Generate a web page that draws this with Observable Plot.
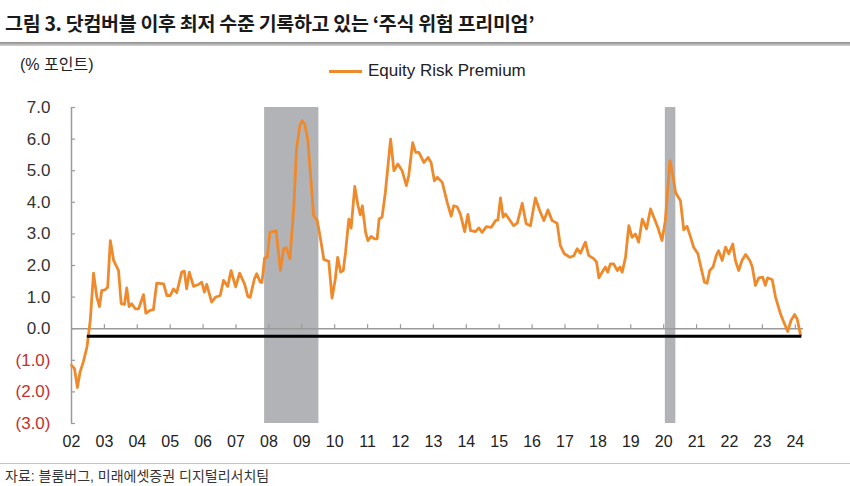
<!DOCTYPE html>
<html>
<head>
<meta charset="utf-8">
<script src="https://cdn.jsdelivr.net/npm/d3@7"></script>
<script src="https://cdn.jsdelivr.net/npm/@observablehq/plot@0.6"></script>
<style>
  html, body { margin: 0; padding: 0; background: #fff; }
  #wrap { position: relative; width: 850px; height: 486px; overflow: hidden;
          font-family: "Liberation Sans", Arial, "Noto Sans CJK KR", sans-serif; color: #222; }
  #wrap > svg { position: absolute; left: 0; top: 0; }
  .abs { position: absolute; white-space: nowrap; line-height: 1; }
  #title { left: 5px; top: 13px; font-size: 19.5px; font-weight: bold; color: #1a1a1a;
           font-family: "Noto Sans CJK KR", "Noto Sans", sans-serif; letter-spacing: -0.3px; }
  #titlebar { left: 0; top: 42px; width: 850px; height: 4px;
              background: linear-gradient(#8a8a8a, #d4d4d4); }
  #unit { left: 20px; top: 57px; font-size: 16px; color: #222; }
  #legline { left: 329px; top: 70px; width: 33px; height: 3px; background: #ef8a2c; }
  #legtext { left: 368px; top: 62px; font-size: 17px; color: #222; }
  #footline { left: 0; top: 463px; width: 850px; height: 1px; background: #c4c4c4; }
  #caption { left: 5px; top: 469px; font-size: 14px; color: #333; }
</style>
</head>
<body>
<div id="wrap"></div>
<script>
// Equity Risk Premium (% points); x = decimal year
const erpYear = [
  2002.00, 2002.09, 2002.18, 2002.26, 2002.36, 2002.47, 2002.57, 2002.67, 2002.77, 2002.85,
  2002.92, 2003.02, 2003.10, 2003.18, 2003.28, 2003.43, 2003.51, 2003.61, 2003.68, 2003.75,
  2003.83, 2003.94, 2004.04, 2004.19, 2004.26, 2004.39, 2004.49, 2004.59, 2004.80, 2004.90,
  2005.00, 2005.10, 2005.20, 2005.35, 2005.43, 2005.50, 2005.58, 2005.71, 2005.86, 2005.96,
  2006.04, 2006.11, 2006.26, 2006.37, 2006.52, 2006.62, 2006.75, 2006.85, 2006.99, 2007.11,
  2007.26, 2007.36, 2007.43, 2007.56, 2007.63, 2007.74, 2007.79, 2007.87, 2007.95, 2008.03,
  2008.15, 2008.22, 2008.35, 2008.45, 2008.53, 2008.64, 2008.76, 2008.84, 2008.94, 2009.01,
  2009.09, 2009.18, 2009.26, 2009.36, 2009.47, 2009.57, 2009.67, 2009.82, 2009.92, 2010.02,
  2010.09, 2010.18, 2010.26, 2010.33, 2010.43, 2010.50, 2010.61, 2010.71, 2010.78, 2010.84,
  2010.94, 2011.01, 2011.11, 2011.21, 2011.29, 2011.35, 2011.44, 2011.54, 2011.70, 2011.80,
  2011.92, 2012.05, 2012.18, 2012.25, 2012.37, 2012.46, 2012.56, 2012.71, 2012.84, 2012.93,
  2013.03, 2013.12, 2013.27, 2013.42, 2013.54, 2013.62, 2013.72, 2013.82, 2013.95, 2014.05,
  2014.13, 2014.28, 2014.38, 2014.48, 2014.61, 2014.76, 2014.89, 2014.96, 2015.04, 2015.12,
  2015.19, 2015.32, 2015.44, 2015.55, 2015.70, 2015.82, 2015.95, 2016.10, 2016.23, 2016.36,
  2016.48, 2016.61, 2016.76, 2016.86, 2016.98, 2017.15, 2017.27, 2017.37, 2017.47, 2017.62,
  2017.72, 2017.88, 2017.96, 2018.03, 2018.13, 2018.23, 2018.30, 2018.38, 2018.48, 2018.59,
  2018.67, 2018.74, 2018.84, 2018.94, 2019.04, 2019.14, 2019.24, 2019.35, 2019.48, 2019.60,
  2019.70, 2019.82, 2019.95, 2020.05, 2020.19, 2020.29, 2020.36, 2020.51, 2020.61, 2020.71,
  2020.81, 2020.91, 2021.04, 2021.12, 2021.24, 2021.32, 2021.40, 2021.50, 2021.60, 2021.67,
  2021.78, 2021.88, 2021.98, 2022.10, 2022.18, 2022.28, 2022.38, 2022.49, 2022.62, 2022.69,
  2022.79, 2022.89, 2023.01, 2023.09, 2023.16, 2023.30, 2023.40, 2023.55, 2023.65, 2023.77,
  2023.87, 2023.98, 2024.06, 2024.16
];
const erpValue = [
  -1.16, -1.26, -1.86, -1.37, -1.05, -0.58, 0.26, 1.76, 1.00, 0.70,
  1.21, 1.23, 1.31, 2.79, 2.16, 1.84, 0.79, 0.77, 1.29, 0.70,
  0.79, 0.63, 0.63, 1.08, 0.49, 0.58, 0.60, 1.44, 1.42, 1.05,
  1.05, 1.26, 1.14, 1.79, 1.82, 1.26, 1.79, 1.34, 1.40, 1.47,
  1.16, 1.40, 0.84, 0.99, 1.05, 1.53, 1.34, 1.84, 1.32, 1.76,
  1.42, 1.02, 0.99, 1.58, 1.74, 1.47, 1.47, 2.24, 2.26, 3.05,
  3.08, 3.10, 1.84, 2.53, 2.56, 2.21, 3.89, 5.69, 6.42, 6.58,
  6.47, 6.00, 4.95, 3.58, 3.42, 2.84, 2.19, 2.13, 0.97, 1.58,
  2.26, 1.79, 1.84, 2.42, 3.47, 3.18, 4.50, 3.89, 3.60, 3.89,
  3.05, 2.79, 2.92, 2.84, 2.84, 3.47, 3.53, 4.31, 6.00, 5.00,
  5.21, 5.00, 4.53, 4.84, 5.89, 5.58, 5.58, 5.26, 5.42, 5.26,
  4.68, 4.79, 4.63, 4.00, 3.56, 3.89, 3.86, 3.63, 3.07, 3.62,
  3.10, 3.07, 3.19, 3.05, 3.23, 3.21, 3.42, 3.44, 4.14, 3.53,
  3.63, 3.44, 3.26, 3.34, 3.97, 3.32, 3.26, 4.14, 3.74, 3.42,
  3.76, 3.42, 3.34, 2.63, 2.37, 2.26, 2.31, 2.53, 2.39, 2.74,
  2.32, 2.21, 2.11, 1.61, 1.79, 1.95, 1.79, 2.05, 2.05, 1.84,
  1.95, 1.79, 2.26, 3.26, 2.89, 3.00, 2.74, 3.47, 3.16, 3.79,
  3.53, 3.21, 2.79, 3.42, 5.32, 4.79, 4.31, 4.05, 3.13, 3.24,
  2.92, 2.58, 2.37, 2.00, 1.47, 1.44, 1.84, 1.95, 2.32, 2.47,
  2.16, 2.58, 2.37, 2.68, 2.16, 1.84, 2.16, 2.35, 2.16, 1.97,
  1.37, 1.61, 1.63, 1.37, 1.61, 1.55, 1.00, 0.47, 0.21, -0.09,
  0.26, 0.45, 0.30, -0.20
];

// US recessions (shaded)
const recessionStart = [2007.87, 2020.05];
const recessionEnd   = [2009.52, 2020.37];

// Current-level reference line
const benchmarkLevel = -0.24;
const benchmarkFrom = 2002.48;
const benchmarkTo = 2024.2;

// Axis ticks
const xLabelYears = d3.range(2002, 2025);
const xTickYears = d3.range(2003, 2025);
const yTicks = [7, 6, 5, 4, 3, 2, 1, 0, -1, -2, -3];

const erp = erpYear.map((x, i) => ({x, v: erpValue[i]}));
const recessions = recessionStart.map((s, i) => ({s, e: recessionEnd[i]}));
const fmtY = d => d < 0 ? `(${Math.abs(d).toFixed(1)})` : d.toFixed(1);
const fmtX = d => String(d % 100).padStart(2, "0");

const chart = Plot.plot({
  width: 850,
  height: 486,
  marginLeft: 71,
  marginRight: 47,
  marginTop: 107,
  marginBottom: 63,
  style: {fontFamily: "'Liberation Sans', Arial, 'Noto Sans CJK KR', sans-serif", fontSize: "16px", background: "transparent", overflow: "visible"},
  x: {domain: [2002, 2024.25], axis: null},
  y: {domain: [-3, 7], axis: null},
  marks: [
    Plot.rect(recessions, {x1: "s", x2: "e", y1: () => -3, y2: () => 7, fill: "#b2b3b7"}),
    Plot.ruleY([0], {stroke: "#9a9a9a", strokeWidth: 1.5}),
    Plot.ruleX([2002], {stroke: "#9a9a9a", strokeWidth: 1.5}),
    Plot.ruleY(yTicks, {y: d => d, x1: () => 2002, x2: () => 2002, insetRight: -4, stroke: "#9a9a9a", strokeWidth: 1.2}),
    Plot.ruleX(xTickYears, {x: d => d, y1: () => 0, y2: () => 0, insetBottom: 4, stroke: "#9a9a9a", strokeWidth: 1.2}),
    Plot.axisY(yTicks.filter(d => d >= 0), {tickSize: 0, tickPadding: 21, tickFormat: fmtY, color: "#333", fontSize: 17, label: null}),
    Plot.axisY(yTicks.filter(d => d < 0), {tickSize: 0, tickPadding: 21, tickFormat: fmtY, color: "#c4302b", fontSize: 17, label: null}),
    Plot.axisX(xLabelYears, {tickSize: 0, tickPadding: 12, tickFormat: fmtX, color: "#222", fontSize: 16, label: null}),
    Plot.line(erp, {x: "x", y: "v", stroke: "#ef8a2c", strokeWidth: 2.8, strokeLinejoin: "round"}),
    Plot.ruleY([benchmarkLevel], {x1: () => benchmarkFrom, x2: () => benchmarkTo, stroke: "#000", strokeWidth: 3})
  ]
});

const wrap = document.getElementById("wrap");
wrap.appendChild(chart);
const add = (id, text) => {
  const d = document.createElement("div");
  d.id = id; d.className = "abs";
  if (text) d.textContent = text;
  wrap.appendChild(d);
};
add("title", "그림 3. 닷컴버블 이후 최저 수준 기록하고 있는 ‘주식 위험 프리미엄’");
add("titlebar");
add("unit", "(% 포인트)");
add("legline");
add("legtext", "Equity Risk Premium");
add("footline");
add("caption", "자료: 블룸버그, 미래에셋증권 디지털리서치팀");
</script>
</body>
</html>
